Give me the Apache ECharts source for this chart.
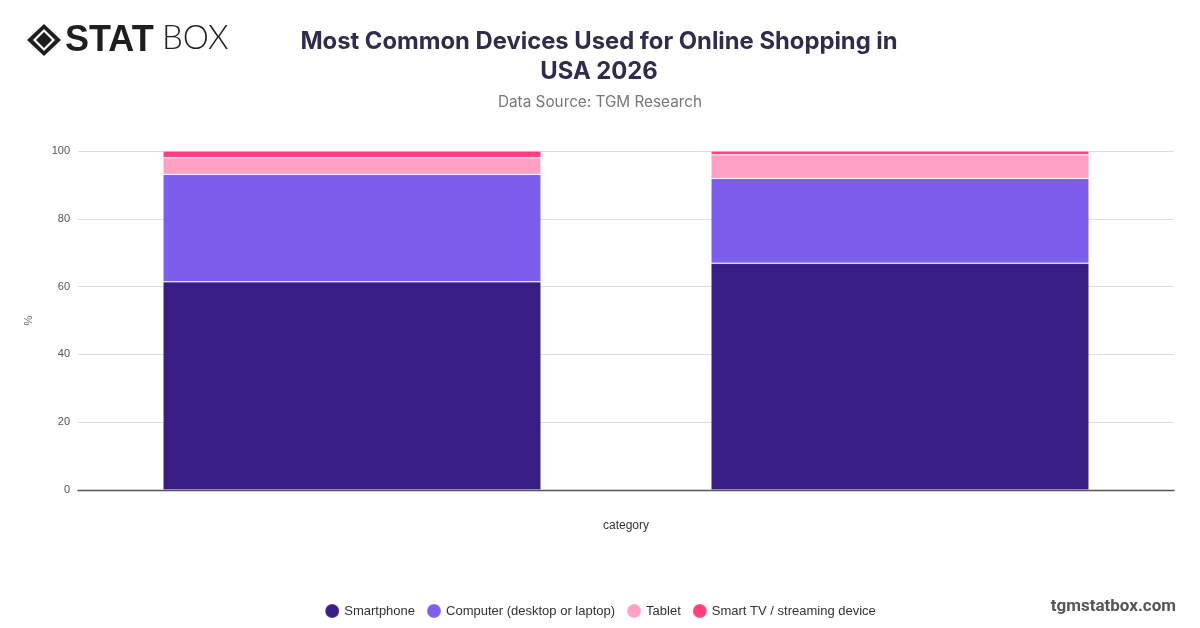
<!DOCTYPE html>
<html><head><meta charset="utf-8">
<script src="https://cdn.jsdelivr.net/npm/echarts@6/dist/echarts.min.js"></script>
<style>html,body{margin:0;padding:0;background:#fff}#c{width:1200px;height:628px}</style>
</head><body><div id="c"></div>
<script>
var categories = ["", ""];
var seriesNames = ["Smartphone", "Computer (desktop or laptop)", "Tablet", "Smart TV / streaming device"];
var smartphone = [61.4, 66.9];
var computer = [31.7, 25.0];
var tablet = [4.9, 7.0];
var smartTV = [2.0, 1.1];
var yTicks = [0, 20, 40, 60, 80, 100];
var colors = ["#381d85", "#7d5deb", "#ffa1c4", "#ff3f7e"];

var values = [smartphone, computer, tablet, smartTV];
var chart = echarts.init(document.getElementById('c'));
var series = seriesNames.map(function (n, i) {
  return {
    name: n, type: 'bar', stack: 'total', data: values[i], barWidth: '69%',
    itemStyle: { color: colors[i], borderColor: 'rgba(255,255,255,0.15)', borderWidth: 1 },
    emphasis: { disabled: true }
  };
});
chart.setOption({
  animation: false,
  textStyle: { fontFamily: 'Inter, Roboto, sans-serif' },
  title: [{
    text: 'Most Common Devices Used for Online Shopping in\nUSA 2026',
    left: 594, top: 22, textAlign: 'center',
    textStyle: { fontSize: 23.8, fontWeight: 'bold', color: '#2f2c4c', lineHeight: 30, fontFamily: 'Inter, sans-serif' }
  }, {
    text: 'Data Source: TGM Research',
    left: 595, top: 90, textAlign: 'center',
    textStyle: { fontSize: 15.3, fontWeight: 'normal', color: '#777', fontFamily: 'Inter, sans-serif' }
  }],
  color: colors,
  legend: {
    bottom: 4, left: 'center', icon: 'circle', itemWidth: 14, itemHeight: 14, itemGap: 11,
    textStyle: { fontSize: 13, color: '#333', fontFamily: 'Liberation Sans, Arial, sans-serif' },
    data: seriesNames
  },
  grid: { left: 78, right: 26, top: 151, bottom: 138 },
  xAxis: {
    type: 'category', data: categories,
    name: 'category', nameLocation: 'middle', nameGap: 30,
    nameTextStyle: { fontSize: 12, color: '#333', fontFamily: 'Liberation Sans, Arial, sans-serif' },
    axisLine: { lineStyle: { color: '#555', width: 1.3 } },
    axisTick: { show: false }, axisLabel: { show: false }
  },
  yAxis: {
    type: 'value', min: yTicks[0], max: yTicks[yTicks.length - 1], interval: 20,
    name: '%', nameLocation: 'middle', nameGap: 44, nameRotate: 90,
    nameTextStyle: { fontSize: 11, color: '#666', fontFamily: 'Liberation Sans, Arial, sans-serif' },
    axisLabel: { fontSize: 11, color: '#555', margin: 8, fontFamily: 'Liberation Sans, Arial, sans-serif' },
    splitLine: { lineStyle: { color: '#dddddd' } },
    axisLine: { show: false }, axisTick: { show: false }
  },
  graphic: [
    { type: 'polygon', shape: { points: [[44, 24], [61, 40], [44, 56], [27, 40]] }, style: { fill: '#1e1e1e' } },
    { type: 'polygon', shape: { points: [[44, 29], [55, 40], [44, 51], [33, 40]] }, style: { fill: '#fff' } },
    { type: 'polygon', shape: { points: [[44, 32], [52, 40], [44, 48], [36, 40]] }, style: { fill: '#1e1e1e' } },
    { type: 'text', left: 65, top: 23, style: { text: 'STAT', font: '900 36px "Liberation Sans", sans-serif', fill: '#1e1e1e' } },
    { type: 'text', left: 162, top: 22, style: { text: 'BOX', font: '300 33px Lato, "Open Sans", sans-serif', fill: '#1e1e1e' } },
    { type: 'text', right: 24, top: 598, style: { text: 'tgmstatbox.com', font: 'bold 17px Roboto, sans-serif', fill: '#555' } }
  ],
  series: series
});
</script></body></html>
